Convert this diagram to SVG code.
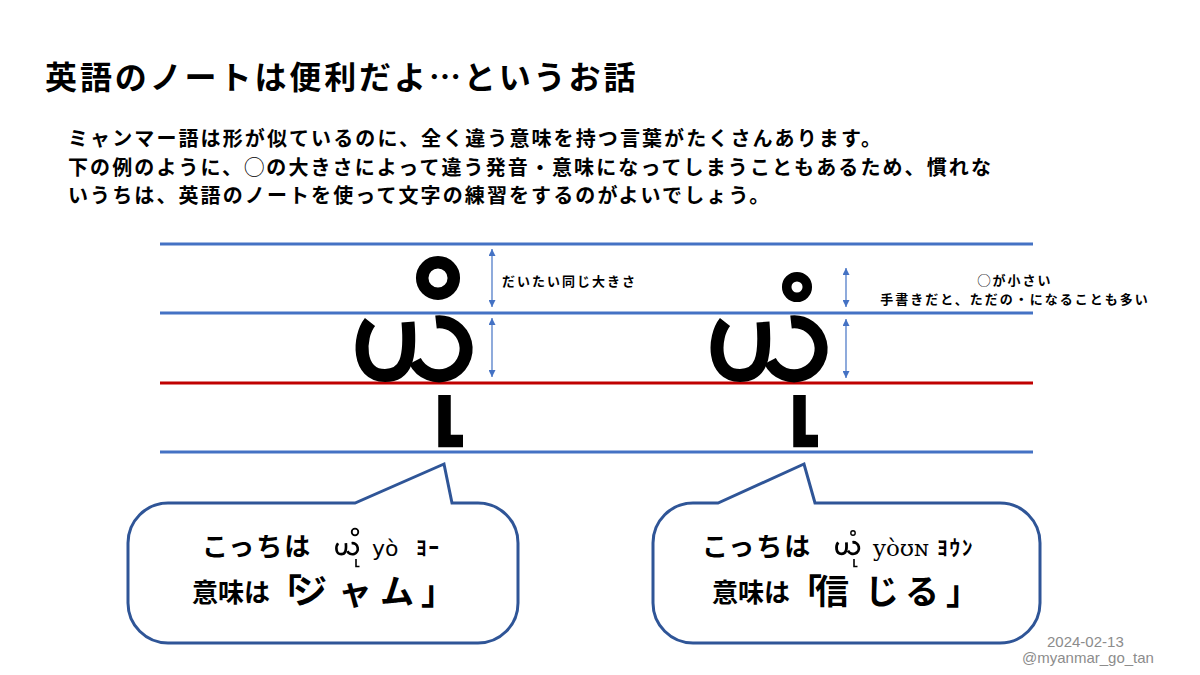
<svg xmlns="http://www.w3.org/2000/svg" width="1200" height="675" viewBox="0 0 1200 675">
  <style>
    .jp { font-family: "Noto Sans CJK JP", "Noto Sans", sans-serif; font-weight: 700; fill: #000; }
    .title { font-size: 32px; letter-spacing: 2.9px; }
    .body { font-size: 20px; letter-spacing: 2.1px; }
    .note { font-size: 13px; letter-spacing: 2px; }
    .bub { font-size: 26px; }
    .big { font-size: 34px; }
    .kana { font-size: 21px; letter-spacing: 2px; }
    .lat { font-family: "DejaVu Sans", "Liberation Sans", sans-serif; font-size: 22px; fill: #000; }
    .ser { font-family: "DejaVu Serif", "Liberation Serif", serif; font-size: 23px; fill: #000; }
    .foot { font-family: "Liberation Sans", "Noto Sans", sans-serif; font-size: 15px; fill: #8c8c8c; }
    .blue { stroke: #4472C4; stroke-width: 3; }
    .red { stroke: #C00000; stroke-width: 3; }
    .arr { stroke: #4472C4; stroke-width: 1.2; fill: none; marker-start: url(#ah); marker-end: url(#ah); }
    .bubble { fill: #fff; stroke: #2F5597; stroke-width: 3; stroke-linejoin: miter; }
    .glyph { fill: none; stroke: #000; stroke-linecap: butt; stroke-linejoin: miter; }
  </style>
  <defs>
    <marker id="ah" viewBox="0 0 10 10" refX="10" refY="5" markerWidth="7" markerHeight="7" markerUnits="userSpaceOnUse" orient="auto-start-reverse">
      <path d="M0,0 L10,5 L0,10 Z" fill="#4472C4"/>
    </marker>
    <g id="ya">
      <path d="M15,6 C3,21 2,59.5 30,59.5 C51,59.5 56,42 53,6"/>
      <path d="M81,6 A27 27 0 1 1 60,45"/>
    </g>
  </defs>
  <rect width="1200" height="675" fill="#fff"/>

  <g id="title">
    <text class="jp title" x="45" y="89">英語のノートは便利だよ…というお話</text>
  </g>

  <g id="intro">
    <text class="jp body" x="68" y="146">ミャンマー語は形が似ているのに、全く違う意味を持つ言葉がたくさんあります。</text>
    <text class="jp body" x="68" y="175">下の例のように、◯の大きさによって違う発音・意味になってしまうこともあるため、慣れな</text>
    <text class="jp body" x="68" y="203">いうちは、英語のノートを使って文字の練習をするのがよいでしょう。</text>
  </g>

  <g id="ruled-lines">
    <line class="blue" x1="160" y1="244" x2="1033" y2="244"/>
    <line class="blue" x1="160" y1="313" x2="1033" y2="313"/>
    <line class="red" x1="160" y1="383" x2="1033" y2="383"/>
    <line class="blue" x1="160" y1="452" x2="1033" y2="452"/>
  </g>

  <g id="glyph-yo">
    <g class="glyph" stroke-width="13" transform="translate(355,316)"><use href="#ya"/></g>
    <circle class="glyph" cx="438" cy="278" r="15.8" stroke-width="12.5"/>
    <path class="glyph" d="M444.5,395 V441 H463" stroke-width="12.5"/>
  </g>

  <g id="glyph-youn">
    <g class="glyph" stroke-width="13" transform="translate(710,316)"><use href="#ya"/></g>
    <circle class="glyph" cx="797" cy="287" r="10.3" stroke-width="9.5"/>
    <path class="glyph" d="M799.5,395 V441 H818" stroke-width="12.5"/>
  </g>

  <g id="connectors">
    <line class="arr" x1="492" y1="249" x2="492" y2="307"/>
    <line class="arr" x1="492" y1="318" x2="492" y2="377"/>
    <line class="arr" x1="846" y1="268" x2="846" y2="307"/>
    <line class="arr" x1="846" y1="319" x2="846" y2="378"/>
  </g>

  <g id="label-same">
    <text class="jp note" x="502" y="286">だいたい同じ大きさ</text>
  </g>

  <g id="label-small">
    <text class="jp note" x="1015" y="285" text-anchor="middle">◯が小さい</text>
    <text class="jp note" x="1015" y="304" text-anchor="middle">手書きだと、ただの・になることも多い</text>
  </g>

  <g id="bubble-yo">
    <path class="bubble" d="M168,503 L355,503 L444,464 L452,503 L478,503 A40 40 0 0 1 518,543 L518,603 A40 40 0 0 1 478,643 L168,643 A40 40 0 0 1 128,603 L128,543 A40 40 0 0 1 168,503 Z"/>
    <text class="jp bub" x="202" y="556" letter-spacing="2">こっちは</text>
    <g class="glyph" stroke-width="13" transform="translate(335,542) scale(0.205)"><use href="#ya"/></g>
    <circle class="glyph" cx="355" cy="532" r="3.3" stroke-width="1.8"/>
    <path class="glyph" d="M356,559 V566.5 H359.5" stroke-width="1.6"/>
    <text class="lat" x="372" y="556">yò</text>
    <text class="jp kana" x="416" y="555">ﾖｰ</text>
    <text class="jp" y="602"><tspan class="bub" x="192">意味は</tspan><tspan class="big" x="268 293 338 380 421" y="604">「ジャム」</tspan></text>
  </g>

  <g id="bubble-youn">
    <path class="bubble" d="M693,503 L718,503 L804,464 L815,503 L1000,503 A40 40 0 0 1 1040,543 L1040,603 A40 40 0 0 1 1000,643 L693,643 A40 40 0 0 1 653,603 L653,543 A40 40 0 0 1 693,503 Z"/>
    <text class="jp bub" x="702" y="556" letter-spacing="2">こっちは</text>
    <g class="glyph" stroke-width="13" transform="translate(835,541) scale(0.215)"><use href="#ya"/></g>
    <circle class="glyph" cx="853" cy="533" r="2.2" stroke-width="1.4"/>
    <path class="glyph" d="M854,559 V566.5 H857.5" stroke-width="1.6"/>
    <text class="ser" x="873" y="556">yòʊɴ</text>
    <text class="jp kana" x="937" y="555">ﾖｳﾝ</text>
    <text class="jp" y="602"><tspan class="bub" x="712" font-size="25">意味は</tspan><tspan class="big" x="788 815 865 905 946" y="604">「信じる」</tspan></text>
  </g>

  <g id="footer">
    <text class="foot" x="1047" y="647">2024-02-13</text>
    <text class="foot" x="1022" y="663">@myanmar_go_tan</text>
  </g>
</svg>
